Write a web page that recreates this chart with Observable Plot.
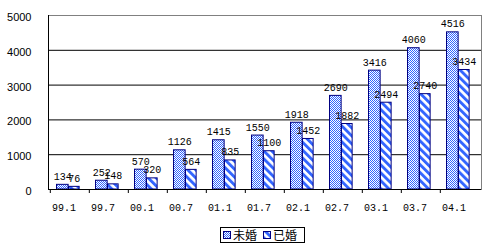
<!DOCTYPE html>
<html>
<head>
<meta charset="utf-8">
<script src="https://cdn.jsdelivr.net/npm/d3@7"></script>
<script src="https://cdn.jsdelivr.net/npm/@observablehq/plot@0.6"></script>
<style>
  body { margin: 0; background: #fff; }
  #chart svg { display: block; }
  .legend-wrap { width: 488px; height: 25px; position: relative; }
  .legend { position: absolute; left: 220px; top: 5px; width: 81px; height: 14px; border: 1px solid #000; box-sizing: content-box;
    font-family: "Noto Sans CJK SC", sans-serif; font-size: 12px; line-height: 14px; display: flex; align-items: center; padding-left: 2px; }
  .sw { width: 6px; height: 6px; border: 1px solid #000080; margin-right: 2px; display: inline-block; }
  .sw svg { display: block; }
  .item { display: flex; align-items: center; margin-right: 6px; }
</style>
</head>
<body>
<svg width="0" height="0" style="position:absolute">
  <defs>
    <pattern id="checker" patternUnits="userSpaceOnUse" width="2" height="2">
      <rect width="2" height="2" fill="#ffffff"/>
      <rect width="1" height="1" fill="#3366ff"/>
      <rect x="1" y="1" width="1" height="1" fill="#3366ff"/>
    </pattern>
    <pattern id="stripes" patternUnits="userSpaceOnUse" width="5.6" height="5.6" patternTransform="rotate(-45)">
      <rect width="5.6" height="5.6" fill="#ffffff"/>
      <rect width="2.9" height="5.6" fill="#3366ff"/>
    </pattern>
  </defs>
</svg>
<div id="chart"></div>
<div class="legend-wrap">
  <div class="legend">
    <span class="item"><span class="sw"><svg width="6" height="6"><rect width="6" height="6" fill="url(#checker)"/></svg></span><span>未婚</span></span>
    <span class="item"><span class="sw"><svg width="6" height="6"><rect width="6" height="6" fill="url(#stripes)"/></svg></span><span>已婚</span></span>
  </div>
</div>
<script>
const categories = ["99.1","99.7","00.1","00.7","01.1","01.7","02.1","02.7","03.1","03.7","04.1"];
const unmarried = [134, 252, 570, 1126, 1415, 1550, 1918, 2690, 3416, 4060, 4516];
const married = [76, 148, 320, 564, 835, 1100, 1452, 1882, 2494, 2740, 3434];
const yTicks = [0, 1000, 2000, 3000, 4000, 5000];
const seriesNames = ["未婚", "已婚"];

const dataU = categories.map((c, i) => ({cat: c, value: unmarried[i], series: seriesNames[0]}));
const dataM = categories.map((c, i) => ({cat: c, value: married[i], series: seriesNames[1]}));

const numFont = "Liberation Mono, monospace";
const bw = 433 / categories.length;

const chart = Plot.plot({
  width: 488,
  height: 222,
  marginLeft: 48,
  marginRight: 7,
  marginTop: 15,
  marginBottom: 33,
  x: {domain: categories, padding: 0, axis: null, label: null},
  y: {domain: [0, 5000], axis: null, label: null},
  marks: [
    Plot.ruleY(yTicks.filter(d => d > 0 && d < 5000), {stroke: "#000", strokeWidth: 1}),
    Plot.frame({stroke: "#808080"}),
    Plot.barY(dataU, {x: "cat", y: "value", fill: "url(#checker)", stroke: "#000080", strokeWidth: 1, insetLeft: 6.5, insetRight: bw - 18.5}),
    Plot.barY(dataM, {x: "cat", y: "value", fill: "url(#stripes)", stroke: "#000080", strokeWidth: 1, insetLeft: 18.5, insetRight: bw - 29.5}),
    Plot.ruleY([0], {stroke: "#000"}),
    Plot.frame({anchor: "left", stroke: "#000"}),
    Plot.axisY(yTicks, {tickSize: 0, tickPadding: 17, tickFormat: "d", label: null, dy: 2, fontFamily: "Liberation Sans, Arial, sans-serif", fontSize: 11, fill: "#000"}),
    Plot.axisX({tickSize: 4, tickFormat: () => "", label: null, dx: -bw / 2, stroke: "#000"}),
    Plot.axisX({tickSize: 0, tickPadding: 14, label: null, dx: -6, fontFamily: numFont, fontSize: 10, fill: "#000"}),
    Plot.text(dataU, {x: "cat", y: "value", text: d => String(d.value), dx: -7.2, dy: -5, lineAnchor: "bottom", fontFamily: numFont, fontSize: 10, fill: "#000"}),
    Plot.text(dataM, {x: "cat", y: "value", text: d => String(d.value), dx: 4.3, dy: -5, lineAnchor: "bottom", fontFamily: numFont, fontSize: 10, fill: "#000"})
  ]
});
document.getElementById("chart").append(chart);
</script>
</body>
</html>
